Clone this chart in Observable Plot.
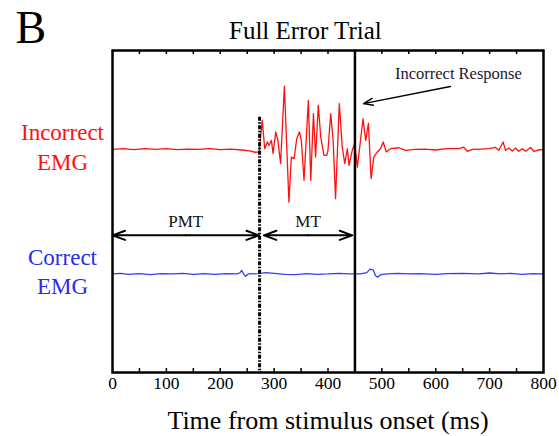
<!DOCTYPE html>
<html><head><meta charset="utf-8">
<script src="https://cdn.jsdelivr.net/npm/d3@7"></script>
<script src="https://cdn.jsdelivr.net/npm/@observablehq/plot@0.6"></script>
<style>body{margin:0;background:#fff;} svg{display:block;}</style>
</head><body><div id="chart"></div>
<script>
// ---- data ----
const redTime = [0,20,40,60,80,100,120,140,160,180,200,220,240,255,265,272,278,282.5,287.5,290.5,295,298,303,307,312,319,327.5,332,337,342,347,350.5,355.5,360.5,363.5,368,373,377,382,386.5,392.5,397.5,400,405,409.5,414,421,426.5,431,436,439,445,449.5,454.5,465,470,475,480,485,491.5,497.5,502.5,508,516,531.5,544,562,580,600,620,643,652,658.5,668,685,698.5,711,717,725,729.5,735.5,742,748,754,760.5,766.5,776,782,791,800];
const redAmp = [0,0.02,-0.01,0.02,0,0.02,-0.01,0.01,0,0.02,-0.01,0.01,-0.02,-0.05,-0.09,-0.08,0.90,0.02,0.23,0.12,0.28,-0.13,0.54,0.28,-0.44,1.96,-1.64,-0.24,-0.29,0.33,0.54,0.28,-0.96,0.59,1.52,-0.96,1.11,-0.24,1.37,0.38,-0.19,-0.19,-0.03,1.11,0.28,-1.53,1.42,0.07,-0.44,0.02,-0.50,-0.03,0.18,-0.55,0.95,0.28,0.81,-0.91,-0.24,-0.08,0.02,0.23,-0.08,0.02,0.05,-0.03,0,0.01,-0.02,0.02,0.02,0.07,-0.06,0,0.01,0.02,0.06,-0.03,0.23,-0.03,0.04,-0.05,0.04,-0.06,0.02,-0.06,0.06,-0.06,-0.02,0];
const blueTime = [0,15,30,50,70,90,110,130,150,170,190,210,230,236,240,244,247,252,270,285,300,320,340,360,380,400,420,440,460,472,478,484,488,492,498,510,530,550,570,600,620,650,680,700,720,740,760,780,800];
const blueAmp  = [0,0.02,-0.01,0.01,-0.02,0.01,0,0.02,-0.01,0.01,-0.01,0.01,0,0.03,0.11,-0.02,-0.07,0,0.01,0.04,0.02,-0.01,-0.02,0.01,-0.01,0,0.02,0,0,0.04,0.15,0.12,-0.05,-0.10,-0.02,0,0.02,0,0.01,-0.01,0.01,0.02,0,0.03,0,0.02,-0.01,0.01,0];
const xTicks = [0,100,200,300,400,500,600,700,800];
const minorTicks = [50,100,150,200,250,300,350,400,450,500,550,600,650,700,750];
const eventNames = ["EMG onset","Incorrect Response"];
const eventTimes = [273,450];
const bracketLabels = ["PMT","MT"];
const bracketStart = [0,281];
const bracketEnd = [272,445];
const traceLabels = ["Incorrect\nEMG","Correct\nEMG"];
const titleText = "Full Error Trial";
const panelLetter = "B";
const xLabel = "Time from stimulus onset (ms)";
const annotationText = "Incorrect Response";

// ---- layout constants ----
const redOffset = 3.87, blueOffset = 0;
const yDomain = [-3.06, 6.94];
const dashTop = 4.87;
const bracketY = 1.2, bracketLabelY = 1.63;
const annot = {tx: 642, ty: 6.23, x1: 627, y1: 5.82, x2: 466, y2: 5.29};

const red = redTime.map((t,i)=>({t, v: redAmp[i] + redOffset}));
const blue = blueTime.map((t,i)=>({t, v: blueAmp[i] + blueOffset}));
const brackets = bracketLabels.map((l,i)=>({label:l, start:bracketStart[i], end:bracketEnd[i]}));
const traces = traceLabels.map((l,i)=>({label:l, y: i===0?redOffset:blueOffset, color: i===0?"#ff1010":"#2a2af0"}));
const serif = "'Liberation Serif','Times New Roman',serif";

const chart = Plot.plot({
  width: 559, height: 436,
  marginLeft: 112, marginRight: 16, marginTop: 50, marginBottom: 64,
  x: {domain: [0,800], label: null},
  y: {domain: yDomain, axis: null},
  style: {fontFamily: serif, background: "white", color: "black"},
  marks: [
    Plot.axisX({ticks: xTicks, tickSize: 0, tickPadding: 4, fontSize: 17.5, tickFormat: d=>String(d), label: null}),
    Plot.tickX(minorTicks, {x: d=>d, insetTop: 318, stroke: "black", strokeWidth: 1.5}),
    Plot.tickX(minorTicks, {x: d=>d, insetBottom: 318, stroke: "black", strokeWidth: 1.5}),
    Plot.line(red, {x: "t", y: "v", stroke: "#ff1010", strokeWidth: 1.3}),
    Plot.line(blue, {x: "t", y: "v", stroke: "#3a3af5", strokeWidth: 1.3}),
    Plot.ruleX([eventTimes[0]], {x: d=>d, y1: ()=>dashTop, y2: ()=>yDomain[0], stroke: "black", strokeWidth: 3, strokeDasharray: "4,1.5,1.5,1.5"}),
    Plot.ruleX([eventTimes[1]], {x: d=>d, stroke: "black", strokeWidth: 2.5}),
    Plot.arrow(brackets, {x1: d=>(d.start+d.end)/2, x2: "start", y1: ()=>bracketY, y2: ()=>bracketY, stroke: "black", strokeWidth: 2, headLength: 10, headAngle: 40}),
    Plot.arrow(brackets, {x1: d=>(d.start+d.end)/2, x2: "end", y1: ()=>bracketY, y2: ()=>bracketY, stroke: "black", strokeWidth: 2, headLength: 10, headAngle: 40}),
    Plot.text(brackets, {x: d=>(d.start+d.end)/2, y: ()=>bracketLabelY, text: "label", fontSize: 17, fill: "#111"}),
    Plot.arrow([annot], {x1: "x1", y1: "y1", x2: "x2", y2: "y2", stroke: "black", strokeWidth: 1.5, headLength: 10, headAngle: 40}),
    Plot.text([annot], {x: "tx", y: "ty", text: ()=>annotationText, fontSize: 16.5, fill: "#1c1830"}),
    Plot.text(traces, {x: ()=>0, y: "y", dx: -50, dy: -4, text: "label", fill: "color", fontSize: 23, lineHeight: 1.3, textAnchor: "middle"}),
    Plot.frame({stroke: "black", strokeWidth: 2.5}),
    Plot.text([titleText], {x: ()=>358, frameAnchor: "top", lineAnchor: "middle", dy: -20, text: d=>d, fontSize: 25, fill: "black"}),
    Plot.text([panelLetter], {frameAnchor: "top-left", lineAnchor: "middle", dx: -97, dy: -22, text: d=>d, fontSize: 46, textAnchor: "start", fill: "black"}),
    Plot.text([xLabel], {frameAnchor: "bottom", lineAnchor: "middle", dy: 48, text: d=>d, fontSize: 26, fill: "black"})
  ]
});
document.getElementById("chart").appendChild(chart);
</script>
</body></html>
